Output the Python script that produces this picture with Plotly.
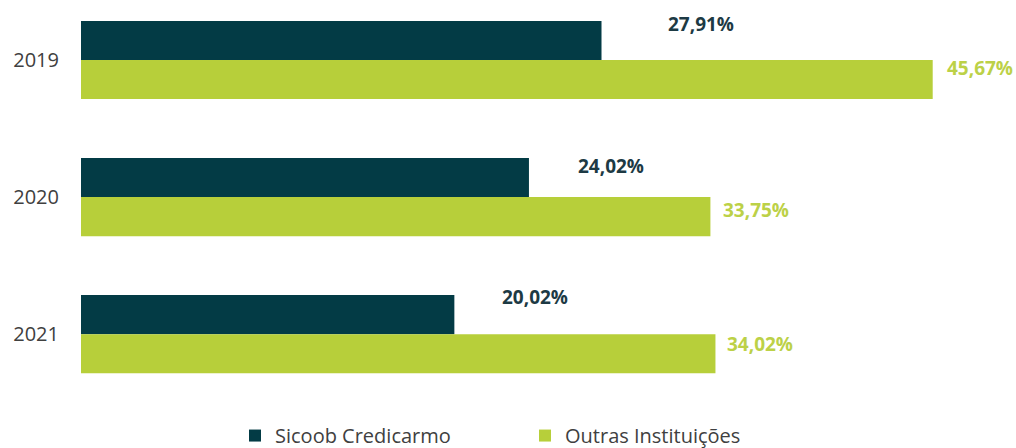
import plotly.graph_objects as go

years = ["2019", "2020", "2021"]
series_names = ["Sicoob Credicarmo", "Outras Instituições"]
sicoob = [27.91, 24.02, 20.02]
outras = [45.67, 33.75, 34.02]
sicoob_labels = ["27,91%", "24,02%", "20,02%"]
outras_labels = ["45,67%", "33,75%", "34,02%"]

DARK = "#033b45"
GREEN = "#b7cf3a"
DARK_TXT = "#1d3a44"
GREEN_TXT = "#bcd147"
FONT = "Open Sans"

# label offsets (pixels) - styling only
dark_xshift = [64, 47, 46]
dark_yshift = [36, 31, 37]
green_xshift = [12, 11, 10]
green_yshift = [-8, -13, -10]

fig = go.Figure()
fig.add_trace(go.Bar(y=years, x=sicoob, name=series_names[0], orientation="h",
                     marker=dict(color=DARK, line=dict(width=0))))
fig.add_trace(go.Bar(y=years, x=outras, name=series_names[1], orientation="h",
                     marker=dict(color=GREEN, line=dict(width=0))))

annotations = []
for i, y in enumerate(years):
    # category axis: annotation y given as the category's serial index
    annotations.append(dict(x=sicoob[i], y=i, xref="x", yref="y",
                            text="<b>" + sicoob_labels[i] + "</b>", showarrow=False,
                            xanchor="left", yanchor="middle",
                            xshift=dark_xshift[i], yshift=dark_yshift[i],
                            font=dict(family=FONT, size=19, color=DARK_TXT)))
    annotations.append(dict(x=outras[i], y=i, xref="x", yref="y",
                            text="<b>" + outras_labels[i] + "</b>", showarrow=False,
                            xanchor="left", yanchor="middle",
                            xshift=green_xshift[i], yshift=green_yshift[i],
                            font=dict(family=FONT, size=19, color=GREEN_TXT)))

fig.update_layout(
    width=1016, height=448,
    margin=dict(l=81, r=10, t=5, b=48, autoexpand=False),
    paper_bgcolor="white", plot_bgcolor="white",
    barmode="group", bargap=0.43, bargroupgap=0,
    font=dict(family=FONT, color="#404040"),
    xaxis=dict(range=[0, 49.6], showticklabels=False, showgrid=False, zeroline=False,
               showline=False, ticks=""),
    yaxis=dict(range=[2.48, -0.401], type="category", showgrid=False, zeroline=False,
               showline=False, ticks="", tickfont=dict(family=FONT, size=20, color="#404040"),
               ticklabelstandoff=21, automargin=False),
    showlegend=True,
    legend=dict(orientation="h", x=0.1665, xanchor="left", y=-0.09, yanchor="middle",
                font=dict(family=FONT, size=20, color="#404040"),
                entrywidth=245, itemwidth=30, bgcolor="rgba(0,0,0,0)"),
    annotations=annotations,
)

fig.write_html("out.html", config={"displayModeBar": False},
               post_script="document.body.style.margin='0';document.body.style.overflow='hidden';")
